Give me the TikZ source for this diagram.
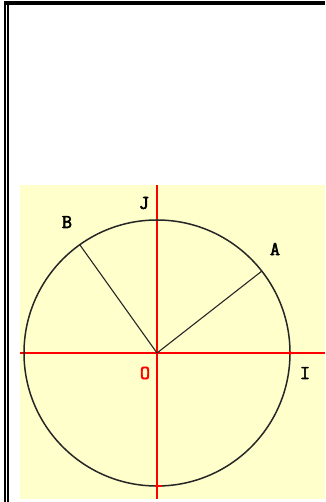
\documentclass[tikz,border=0pt]{standalone}
\usepackage{fontspec}
\setmonofont{Latin Modern Mono}[AutoFakeBold=3]
\usetikzlibrary{calc}
\definecolor{bgyellow}{HTML}{FFFFCC}
\tikzset{
  lab/.style={font=\fontsize{19.5bp}{19.5bp}\selectfont\ttfamily\bfseries, inner sep=0pt, text=black},
  axis/.style={red, line width=1.1bp},
  ray/.style={black!85, line width=1.1bp},
  circ/.style={black!85, line width=1.5bp}
}
\begin{document}
\begin{tikzpicture}[x=1bp,y=-1bp]
\useasboundingbox (0,0) rectangle (325,502);
\fill[white] (0,0) rectangle (325,502);
\fill[bgyellow] (20,185) rectangle (325,499);
% frame
\fill[black] (4,1) rectangle (325,5);
\fill[black] (4,1) rectangle (6,502);
\fill[black] (7,5) rectangle (8.7,502);
% coordinates
\coordinate (O) at (157,353);
\coordinate (xl) at (20,353);
\coordinate (xr) at (325,353);
\coordinate (yt) at (157,185);
\coordinate (yb) at (157,499);
\coordinate (A) at ($(O)+(38:133bp)$);
\coordinate (B) at ($(O)+(125.5:133bp)$);
\coordinate (Ip) at ($(O)+(0:133bp)$);
\coordinate (Kp) at ($(O)+(-90:133bp)$);
% axes
\draw[axis] (xl) -- (xr);
\draw[axis] (yt) -- (yb);
% circle
\draw[circ] (O) circle[radius=133bp];
% rays
\draw[ray] (O) -- (A);
\draw[ray] (O) -- (B);
% small marks
\draw[red, line width=1.2bp] ($(Ip)+(0,2bp)$) -- ($(Ip)+(0,-2bp)$);
\draw[red, line width=1.2bp] ($(Kp)+(-2bp,0)$) -- ($(Kp)+(5bp,0)$);
% labels
\node[lab] (lJ) at (144,203) {J};
\node[lab] (lB) at (67,222) {B};
\node[lab] (lA) at (275,249) {A};
\node[lab, text=red] (lO) at (145,373) {O};
\node[lab] (lI) at (305,373) {I};
\end{tikzpicture}
\end{document}
